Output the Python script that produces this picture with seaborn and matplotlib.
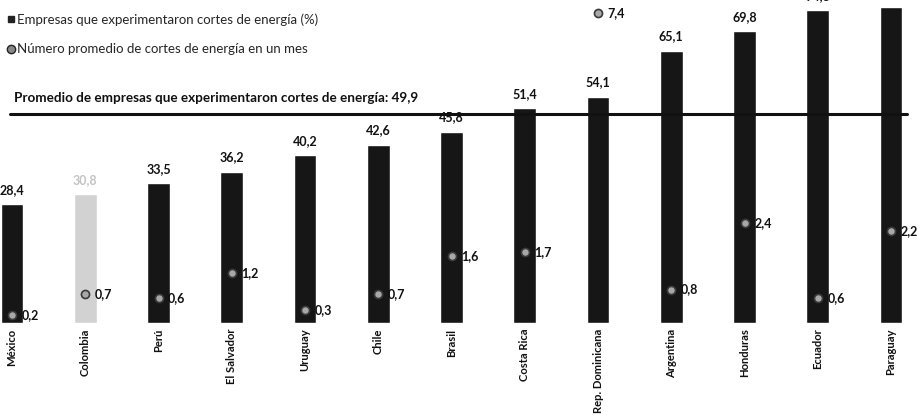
import numpy as np
import pandas as pd
import matplotlib
matplotlib.use("Agg")
import matplotlib.pyplot as plt
import seaborn as sns
from matplotlib.lines import Line2D

# Data
paises = ["México", "Colombia", "Perú", "El Salvador", "Uruguay", "Chile", "Brasil",
          "Costa Rica", "Rep. Dominicana", "Argentina", "Honduras", "Ecuador", "Paraguay"]
empresas_pct = [28.4, 30.8, 33.5, 36.2, 40.2, 42.6, 45.8, 51.4, 54.1, 65.1, 69.8, 74.8, 75.6]
cortes_mes = [0.2, 0.7, 0.6, 1.2, 0.3, 0.7, 1.6, 1.7, 7.4, 0.8, 2.4, 0.6, 2.2]
promedio = 49.9
resaltado = "Colombia"

sns.set_theme(style="white")
plt.rcParams["font.family"] = ["Lato", "DejaVu Sans"]

df = pd.DataFrame({"pais": paises, "pct": empresas_pct, "cortes": cortes_mes})
palette = {p: ("#d2d2d2" if p == resaltado else "#161616") for p in paises}

fig = plt.figure(figsize=(9.22, 4.19), dpi=100)
ax = fig.add_axes([0, 96 / 419, 1, 323 / 419])

sns.barplot(data=df, x="pais", y="pct", hue="pais", palette=palette, legend=False,
            width=0.31, saturation=1, ax=ax)
ax.set_xlim(-12 / 73.25, 12 + 31 / 73.25)
ax.set_ylim(0, 323 / 4.18)

# value labels above bars
for i, (p, v) in enumerate(zip(paises, empresas_pct)):
    col = "#c4c4c4" if p == resaltado else "#111111"
    ax.text(i, v + 2.0, f"{v:.1f}".replace(".", ","), ha="center", va="bottom",
            fontsize=9, fontweight="bold", color=col, clip_on=False)

# average line
ax.axhline(promedio, xmin=10 / 922, xmax=907 / 922, color="#111111", lw=2.2, zorder=5)
ax.text(14 / 922, promedio + 2.4,
        f"Promedio de empresas que experimentaron cortes de energía: {promedio:.1f}".replace(".", ","),
        transform=ax.get_yaxis_transform(), ha="left", va="bottom",
        fontsize=9.7, fontweight="bold", color="#111111")

# secondary axis for number of outages
ax2 = ax.twinx()
ax2.set_ylim(0, 7.72)
x_pos = np.arange(len(paises))
ax2.scatter(x_pos, cortes_mes, s=34, color="#a8a8a8", edgecolor="#3a3a3a", linewidth=1.2,
            zorder=6, clip_on=False)
for i, v in enumerate(cortes_mes):
    ax2.annotate(f"{v:.1f}".replace(".", ","), (i, v), xytext=(7, 0), textcoords="offset points",
                 ha="left", va="center", fontsize=9, fontweight="bold", color="#111111")

for a in (ax, ax2):
    for s in a.spines.values():
        s.set_visible(False)
    a.set_yticks([])
    a.set_ylabel("")
ax.set_xlabel("")
ax.tick_params(axis="x", length=0, pad=4)
ax.set_xticks(x_pos)
ax.set_xticklabels(paises, rotation=90, fontsize=8.1, fontweight="bold", color="#111111")

# legend
handles = [
    Line2D([], [], marker="s", ls="", markersize=5, markerfacecolor="#222222", markeredgecolor="#222222"),
    Line2D([], [], marker="o", ls="", markersize=6, markerfacecolor="#888888", markeredgecolor="#222222"),
]
labels = ["Empresas que experimentaron cortes de energía (%)",
          "Número promedio de cortes de energía en un mes"]
fig.legend(handles, labels, loc="upper left", bbox_to_anchor=(-0.004, 0.99), frameon=False,
           fontsize=9.5, handletextpad=0.1, handlelength=0.8, labelspacing=1.3, borderaxespad=0.3)

fig.savefig("out.png", dpi=100)
